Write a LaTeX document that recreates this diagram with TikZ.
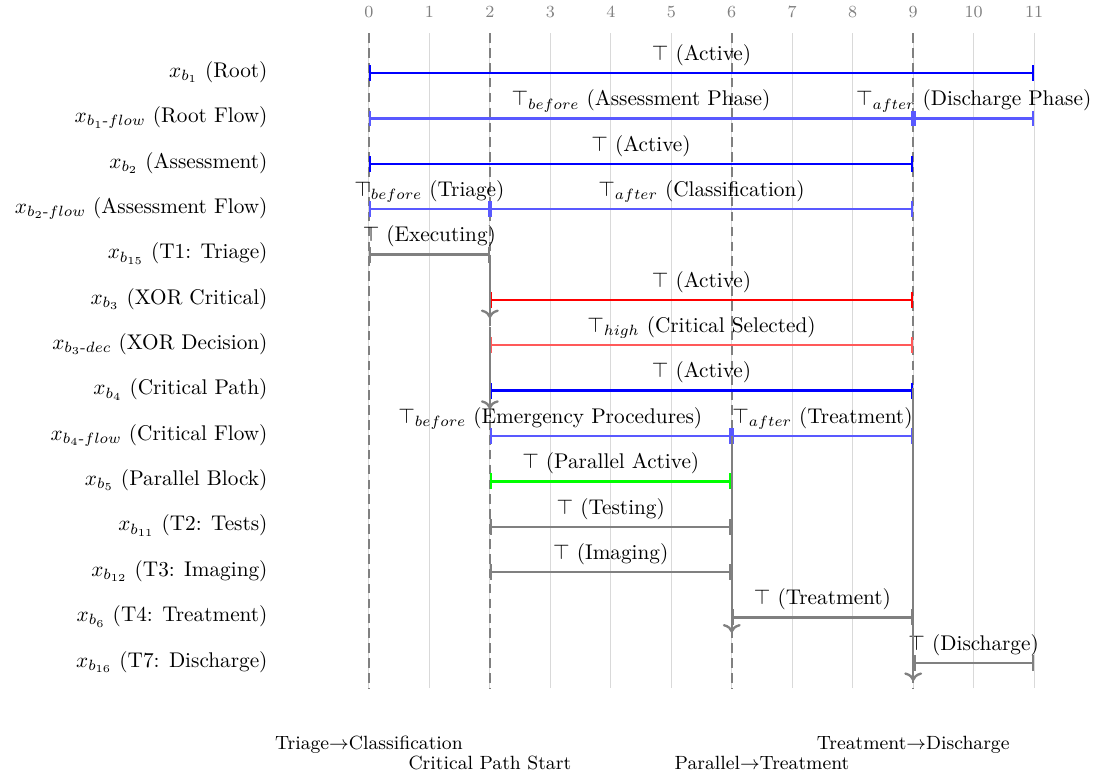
\documentclass[tikz,border=0pt]{standalone}
\usepackage{amsmath}
\usetikzlibrary{arrows.meta}
\colorlet{flowblue}{blue!65}
\colorlet{decred}{red!65}
\begin{document}
\begin{tikzpicture}[
      bar/.style={line width=1.1pt, {Bar[width=7.5pt]}-{Bar[width=7.5pt]}},
      barlabel/.style={anchor=base, inner sep=1pt},
      rowlabel/.style={anchor=base east, inner sep=0pt},
      marker/.style={gray, thick, dash pattern=on 4.5pt off 2.5pt},
      flowarrow/.style={->, gray, line width=1.1pt}
    ]
    \useasboundingbox (-6.10,-11.61) rectangle (11.99,1.21);

    % Time axis and grid
    \foreach \x in {0,...,11} {
      \draw[gray!30] (\x,0.66) -- (\x,-10.17);
      \node[gray, font=\footnotesize] (T\x) at (\x,1.01) {\x};
    }
    \foreach \x in {0,2,6,9}
      \draw[marker] (\x,0.66) -- (\x,-10.17);

    % Row labels
    \foreach \r/\lab in {1/{$x_{b_1}$ (Root)}, 2/{$x_{b_1\text{-}flow}$ (Root Flow)},
        3/{$x_{b_2}$ (Assessment)}, 4/{$x_{b_2\text{-}flow}$ (Assessment Flow)},
        5/{$x_{b_{15}}$ (T1: Triage)}, 6/{$x_{b_3}$ (XOR Critical)},
        7/{$x_{b_3\text{-}dec}$ (XOR Decision)}, 8/{$x_{b_4}$ (Critical Path)},
        9/{$x_{b_4\text{-}flow}$ (Critical Flow)}, 10/{$x_{b_5}$ (Parallel Block)},
        11/{$x_{b_{11}}$ (T2: Tests)}, 12/{$x_{b_{12}}$ (T3: Imaging)},
        13/{$x_{b_6}$ (T4: Treatment)}, 14/{$x_{b_{16}}$ (T7: Discharge)}} {
      \node[rowlabel] (R\r) at (-1.67,{-0.75*(\r-1)-0.07}) {\lab};
    }

    % Bars with their states
    \foreach \r/\a/\b/\col/\lx/\lab [count=\n] in {
        1/0/11/blue/5.5/{$\top$ (Active)},
        2/0/9/flowblue/4.5/{$\top_{before}$ (Assessment Phase)},
        2/9/11/flowblue/10/{$\top_{after}$ (Discharge Phase)},
        3/0/9/blue/4.5/{$\top$ (Active)},
        4/0/2/flowblue/1/{$\top_{before}$ (Triage)},
        4/2/9/flowblue/5.5/{$\top_{after}$ (Classification)},
        5/0/2/gray/1/{$\top$ (Executing)},
        6/2/9/red/5.5/{$\top$ (Active)},
        7/2/9/decred/5.5/{$\top_{high}$ (Critical Selected)},
        8/2/9/blue/5.5/{$\top$ (Active)},
        9/2/6/flowblue/3/{$\top_{before}$ (Emergency Procedures)},
        9/6/9/flowblue/7.5/{$\top_{after}$ (Treatment)},
        10/2/6/green/4/{$\top$ (Parallel Active)},
        11/2/6/gray/4/{$\top$ (Testing)},
        12/2/6/gray/4/{$\top$ (Imaging)},
        13/6/9/gray/7.5/{$\top$ (Treatment)},
        14/9/11/gray/10/{$\top$ (Discharge)}} {
      \draw[bar, \col] (\a,{-0.75*(\r-1)}) -- (\b,{-0.75*(\r-1)});
      \node[barlabel] (B\n) at (\lx,{-0.75*(\r-1)+0.21}) {\lab};
    }

    % Hand-over arrows
    \coordinate (A1s) at (2,-3.0);  \coordinate (A1e) at (2,-4.05);
    \coordinate (A2s) at (2,-4.2);  \coordinate (A2e) at (2,-5.55);
    \coordinate (A3s) at (6,-6.0);  \coordinate (A3e) at (6,-9.25);
    \coordinate (A4s) at (9,-5.2);  \coordinate (A4e) at (9,-10.05);
    \foreach \i in {1,...,4}
      \draw[flowarrow] (A\i s) -- (A\i e);

    % Transition markers
    \node[font=\small] (M1) at (0,-11.10) {Triage$\rightarrow$Classification};
    \node[font=\small] (M2) at (2,-11.40) {Critical Path Start};
    \node[font=\small] (M3) at (6.5,-11.40) {Parallel$\rightarrow$Treatment};
    \node[font=\small] (M4) at (9,-11.10) {Treatment$\rightarrow$Discharge};

\end{tikzpicture}
\end{document}
